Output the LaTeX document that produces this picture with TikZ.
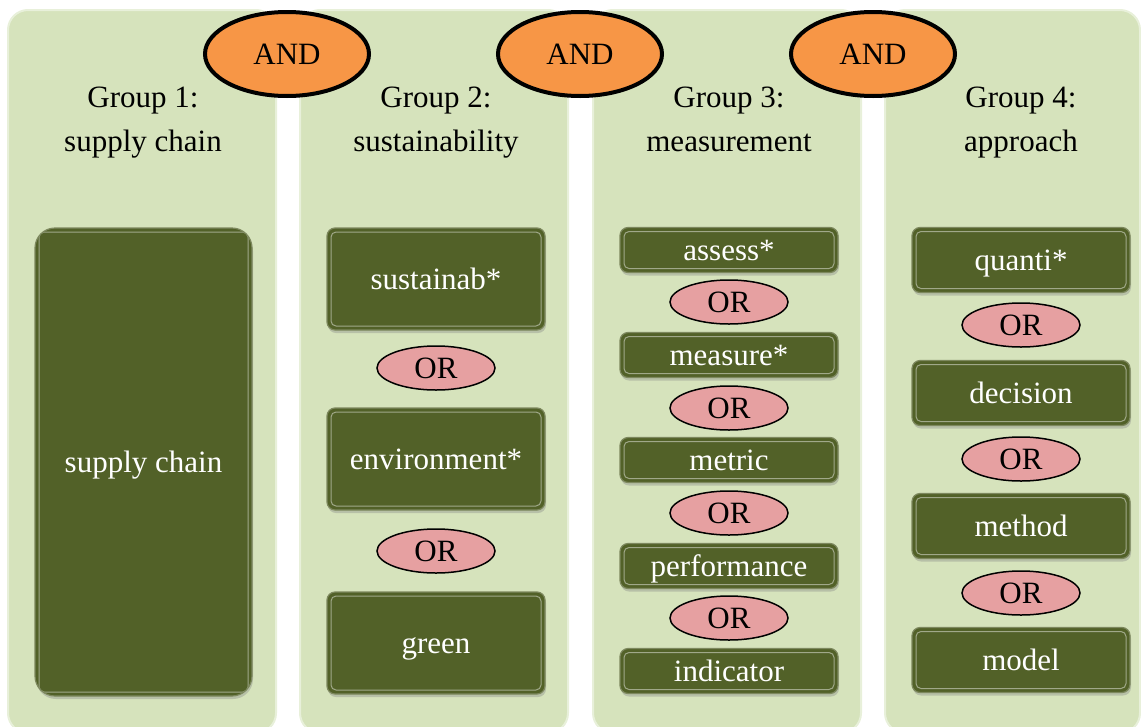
\documentclass[tikz,border=0pt]{standalone}
\usepackage{fontspec}
\setmainfont{Liberation Serif}
\usetikzlibrary{shapes.geometric,shadows}
\definecolor{pale}{RGB}{214,227,188}
\definecolor{olive}{RGB}{82,97,40}
\definecolor{andfill}{RGB}{247,150,70}
\definecolor{orfill}{RGB}{230,160,161}
\begin{document}
\begin{tikzpicture}[x=1pt,y=-1pt,font=\fontsize{31}{44}\selectfont,
	col/.style={fill=pale,draw=pale!55!white,line width=2pt,rounded corners=20pt},
	title/.style={align=center,anchor=north},
	term/.style={fill=olive,draw=olive!75!white,line width=1.2pt,rounded corners=8pt,text=white,
		minimum width=218pt,inner sep=0pt,text height=24pt,text depth=4pt,
		drop shadow={opacity=.35,shadow xshift=1pt,shadow yshift=-3pt},
		path picture={\draw[olive!55!white,line width=1pt,rounded corners=5pt]
			([shift={(4pt,-4pt)}]path picture bounding box.north west) rectangle
			([shift={(-4pt,4pt)}]path picture bounding box.south east);}},
	andnode/.style={ellipse,draw,line width=4pt,fill=andfill,minimum width=164pt,minimum height=84pt,inner sep=0pt},
	ornode/.style={ellipse,draw,line width=1.5pt,fill=orfill,minimum width=118pt,minimum height=44pt,inner sep=0pt}]
	\useasboundingbox (0,0) rectangle (1141,726);
	% columns
	\foreach \x/\w in {8/268,300/268,593/268,885/255}
		\draw[col] (\x,10) rectangle ++(\w,723);
	% AND between the groups
	\node[andnode] (and1) at (287,54) {AND};
	\node[andnode] (and2) at (580,54) {AND};
	\node[andnode] (and3) at (873,54) {AND};
	% group titles
	\node[title] (g1) at (143,83) {Group 1:\\supply chain};
	\node[title] (g2) at (436,83) {Group 2:\\sustainability};
	\node[title] (g3) at (729,83) {Group 3:\\measurement};
	\node[title] (g4) at (1021,83) {Group 4:\\approach};
	% group 1
	\node[term,rounded corners=20pt,minimum width=217pt,minimum height=468pt] (sc) at (143.5,462) {supply chain};
	% group 2
	\def\h{102pt}
	\node[term,minimum height=\h] (sus) at (436,279) {sustainab*};
	\node[ornode] (or21) at (436,368) {OR};
	\node[term,minimum height=\h] (env) at (436,459) {environment*};
	\node[ornode] (or22) at (436,551) {OR};
	\node[term,minimum height=\h] (gre) at (436,643) {green};
	% group 3
	\def\h{45pt}
	\node[term,minimum height=\h] (ass) at (729,250) {assess*};
	\node[ornode] (or31) at (729,302) {OR};
	\node[term,minimum height=\h] (mea) at (729,355) {measure*};
	\node[ornode] (or32) at (729,408) {OR};
	\node[term,minimum height=\h] (met) at (729,460) {metric};
	\node[ornode] (or33) at (729,513) {OR};
	\node[term,minimum height=\h] (per) at (729,566) {performance};
	\node[ornode] (or34) at (729,618) {OR};
	\node[term,minimum height=\h] (ind) at (729,671) {indicator};
	% group 4
	\def\h{65pt}
	\node[term,minimum height=\h] (qua) at (1021,260) {quanti*};
	\node[ornode] (or41) at (1021,325) {OR};
	\node[term,minimum height=\h] (dec) at (1021,393) {decision};
	\node[ornode] (or42) at (1021,459) {OR};
	\node[term,minimum height=\h] (mth) at (1021,526) {method};
	\node[ornode] (or43) at (1021,593) {OR};
	\node[term,minimum height=\h] (mod) at (1021,660) {model};
\end{tikzpicture}
\end{document}
